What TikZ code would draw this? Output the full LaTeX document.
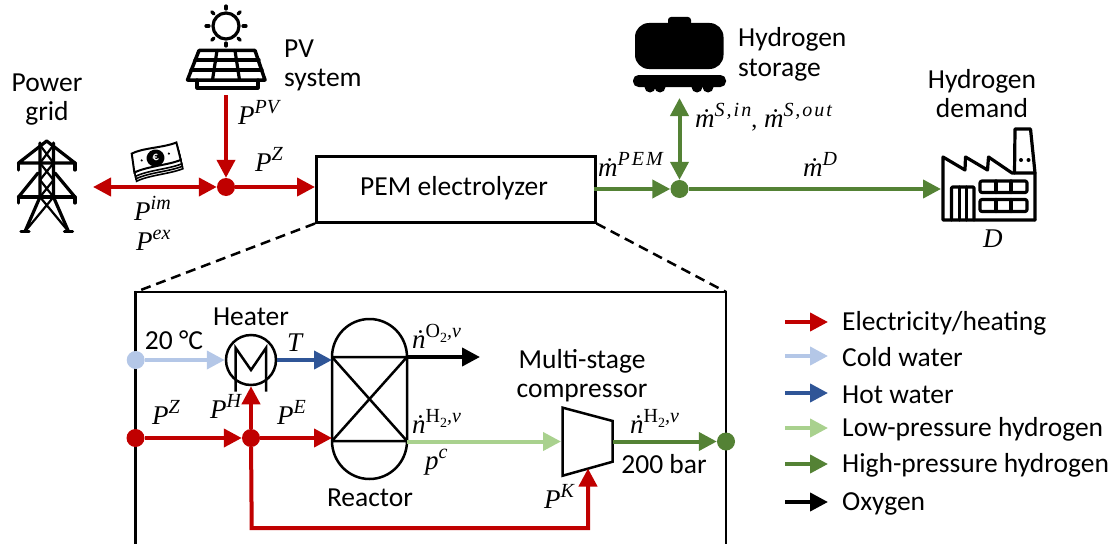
\documentclass[tikz,border=0pt]{standalone}
\usepackage{fontspec}
\setmainfont{Carlito}
\newfontfamily\varfont[ItalicFont=Liberation Serif Italic]{Liberation Serif}
\usetikzlibrary{arrows.meta,calc}
\definecolor{cred}{HTML}{C00000}
\definecolor{clblue}{HTML}{B4C7E7}
\definecolor{cblue}{HTML}{2F5597}
\definecolor{clgreen}{HTML}{A9D18E}
\definecolor{cgreen}{HTML}{548235}
\newcommand\supfs{\fontsize{20}{20}\selectfont}
\newcommand\Var[2]{{\varfont\itshape #1\raisebox{.40em}{\supfs #2}}}
\newcommand\mdot{{\varfont\itshape\.m}}
\newcommand\ndot{{\varfont\itshape\.n}}
\newcommand\MD[1]{\mdot\raisebox{.40em}{\supfs\varfont\itshape\addfontfeatures{LetterSpace=10} #1}}
\newcommand\ND[1]{\ndot\raisebox{.40em}{\supfs\varfont{\upshape #1}\raisebox{-.25em}{\fontsize{14}{14}\selectfont\upshape 2}\itshape ,v}}
\tikzset{
  x=1pt,y=-1pt,
  txt/.style={font=\fontsize{27.5}{29}\selectfont,inner sep=0pt,align=center},
  txtl/.style={txt,anchor=base west,align=left},
  mlbl/.style={anchor=base west,inner sep=0pt,font=\fontsize{27}{30}\selectfont\varfont\itshape},
  flow/.style={line width=4pt,-{Triangle[length=18pt,width=18pt]}},
  flowb/.style={line width=4pt,{Triangle[length=18pt,width=18pt]}-{Triangle[length=18pt,width=18pt]}},
  dot/.style={circle,fill=#1,draw=none,minimum size=18pt,inner sep=0pt},
  icon/.style={line width=3.2pt,line join=round,line cap=round},
  unit/.style={draw=black,line width=2.5pt,fill=white},
}
\begin{document}
\begin{tikzpicture}
\useasboundingbox (0,0) rectangle (1115,543);
% detail frame
\coordinate (fa) at (135.5,545);
\coordinate (fb) at (135.5,292);
\coordinate (fc) at (726,292);
\coordinate (fd) at (726,545);
\draw[line width=2.5pt,line join=miter] (fa) -- (fb) -- (fc) -- (fd);
% PEM
\node[unit,minimum width=279pt,minimum height=66pt,inner sep=0pt,anchor=north west] (pem) at (315,155) {};
\node[txt] (pemt) at (454,188.5) {PEM electrolyzer};
\draw[line width=2.5pt,dash pattern=on 10pt off 6pt] (pem.south west) -- (fb);
\draw[line width=2.5pt,dash pattern=on 10pt off 6pt] (pem.south east) -- (fc);
% Power grid icon
\begin{scope}[shift={(0,0)},icon]
\coordinate (tw) at (47,187);
\draw (46.7,141) -- (18.5,163) -- (75,163) -- cycle;
\draw (18.5,163) -- (18.5,170) (75,163) -- (75,170);
\draw (18.5,197) -- (75,197) (18.5,197) -- (18.5,203) (75,197) -- (75,203);
\draw (38,173) -- (18.5,197) (55,173) -- (75,197);
\draw (40,143) -- (40,197) -- (25,231.5) (53.5,143) -- (53.5,197) -- (68.5,231.5);
\draw (21,231.5) -- (29,231.5) (64.5,231.5) -- (72.5,231.5);
\draw[line width=2.2pt] (40,145) -- (53.5,163) (53.5,145) -- (40,163)
  (40,163) -- (53.5,180) (53.5,163) -- (40,180)
  (40,180) -- (53.5,197) (53.5,180) -- (40,197)
  (40,197) -- (68.5,231.5) (53.5,197) -- (25,231.5);
\end{scope}
\node[txt] (grid) at (47,100) {Power\\grid};
% PV icon
\begin{scope}[icon]
\draw (226,26) circle (13);
\foreach \a in {0,45,...,315}{\draw ($(226,26)+(\a:17)$) -- ($(226,26)+(\a:20)$);}
\draw[line width=3.5pt] (199,50.5) -- (255,50.5) -- (265,80) -- (187.5,80) -- cycle;
\draw (195,60) -- (259,60) (191,70) -- (262,70);
\draw (217,50.5) -- (212.5,80) (235,50.5) -- (239.5,80);
\draw (197,80) -- (197,88) -- (258,88) -- (258,80);
\end{scope}
\coordinate (pvout) at (226,95);
\node[txtl] (pv) at (284,57) {PV};
\node[txtl] (sys) at (284,86) {system};
% money icon
\begin{scope}[shift={(155.5,158)},rotate=14]
\foreach \d in {8,5.5,3}{\draw[line width=1.6pt,fill=white] (-22,-9+\d) .. controls (-10,-12+\d) and (10,-7+\d) .. (24,-9+\d) -- (24,9+\d) .. controls (10,11+\d) and (-10,7+\d) .. (-24,10+\d) -- cycle;}
\draw[line width=2pt,fill=white] (-22,-10) .. controls (-10,-13) and (10,-8) .. (24,-10) -- (24,8) .. controls (10,10) and (-10,6) .. (-24,9) -- cycle;
\fill (0,0) ellipse (9 and 8.5);
\fill (-14,-1) circle (1.2) (14,-1) circle (1.2);
\end{scope}
\node[inner sep=0pt,text=white,font=\fontsize{12}{12}\selectfont\bfseries,rotate=14] (euro) at (155.5,158) {€};
% junctions
\node[dot=cred] (j1) at (226,187) {};
\node[dot=cgreen] (j2) at (679.5,189) {};
\coordinate (gridc) at (93,187);
\draw[flow,cred] (pvout) -- (j1);
\draw[flowb,cred] (gridc) -- (j1);
\draw[flow,cred] (j1) -- (pem.west |- j1);
\coordinate (pemo) at (594,189);
\draw[flow,cgreen] (pemo) -- (j2);
\coordinate (sto) at (679.5,98);
\draw[flowb,cgreen] (sto) -- (j2);
\coordinate (dem) at (941,189);
\draw[flow,cgreen] (j2) -- (dem);
% storage icon
\fill[rounded corners=3pt] (668,17) rectangle (691,26);
\fill[rounded corners=14pt] (635,23) rectangle (723.5,69);
\fill[rounded corners=5.5pt] (633,75) rectangle (726,87);
\foreach \x in {650,660,697,708}{\fill (\x,87) circle (5.5);}
\node[txtl] (st1) at (738,47) {Hydrogen};
\node[txtl] (st2) at (738,76) {storage};
% factory icon
\begin{scope}[icon]
\draw (1035,220) -- (943,220) -- (943,157) -- (965,170) -- (965.5,157) -- (987.5,170) -- (988.5,157) -- (1012,173) -- (1035,173);
\draw (1035,220) -- (1035,173) -- (1030.5,129) -- (1015,129) -- (1014.5,173);
\fill (1021,160) circle (2) (1028.5,160) circle (2);
\draw[rounded corners=1pt] (951.5,220) -- (951.5,187) -- (974,187) -- (974,220);
\draw (959.5,187) -- (959.5,220) (966.5,187) -- (966.5,220);
\draw[rounded corners=2pt] (980,181) rectangle (1027,192.5);
\draw[rounded corners=2pt] (980,199.5) rectangle (1027,211.5);
\draw (996,181) -- (996,192.5) (1011,181) -- (1011,192.5) (996,199.5) -- (996,211.5) (1011,199.5) -- (1011,211.5);
\end{scope}
\node[txt] (dm) at (982,93.5) {Hydrogen\\demand};
% top labels
\node[mlbl] (lpv) at (238,124) {\Var{P}{PV}};
\node[mlbl] (lz) at (255,171) {\Var{P}{Z}};
\node[mlbl] (lim) at (134,220) {\Var{P}{im}};
\node[mlbl] (lex) at (136,250) {\Var{P}{ex}};
\node[mlbl] (lm) at (598,176) {\MD{PEM}};
\node[mlbl] (ls) at (695,127) {\MD{S,in}{\fontsize{24}{24}\selectfont\upshape ,} \MD{S,out}};
\node[mlbl] (ld) at (803,176) {\MD{D}};
\node[mlbl] (lD) at (983,247) {D};
% Detail: heater
\node[circle,draw,line width=2.5pt,minimum size=50pt,inner sep=0pt] (ht) at (251,360) {};
\draw[line width=2.5pt,line join=miter] (235.7,391.7) -- (235.7,348) -- (251,370) -- (266,348) -- (266,391.7);
\node[txt] (hl) at (251,317) {Heater};
% reactor
\coordinate (ra) at (332,357);
\coordinate (rb) at (407,357);
\coordinate (rc) at (407,441);
\coordinate (rd) at (332,441);
\draw[line width=2.5pt,line join=round] (rd) -- (ra) arc[start angle=180,end angle=360,x radius=37.5pt,y radius=-38pt] -- (rc) arc[start angle=0,end angle=180,x radius=37.5pt,y radius=-38pt] -- cycle;
\draw[line width=2.5pt] (ra) -- (rb) (rd) -- (rc) (ra) -- (rc) (rb) -- (rd);
\node[txt] (rl) at (370,497.5) {Reactor};
% compressor
\coordinate (ca) at (562.7,407.7);
\coordinate (cb) at (612.7,421);
\coordinate (cc) at (612.7,461.7);
\coordinate (cd) at (562.7,475.7);
\draw[line width=2.5pt,line join=miter] (ca) -- (cb) -- (cc) -- (cd) -- cycle;
\node[txt] (cl) at (582,376) {Multi-stage\\compressor};
% detail flows
\node[dot=clblue] (cw) at (135.7,360) {};
\node[dot=cred] (e0) at (135.5,438) {};
\node[dot=cred] (e1) at (251,438) {};
\node[dot=cgreen] (h2) at (726,441.5) {};
\draw[flow,clblue] (cw) -- (ht.west);
\draw[flow,cblue] (ht.east) -- (ra |- ht.east);
\draw[flow,cred] (e0) -- (e1);
\draw[flow,cred] (e1) -- (ht.south);
\draw[flow,cred] (e1) -- (rd |- e1);
\coordinate (kin) at (588,468.5);
\coordinate (bl) at (251.7,528);
\draw[flow,cred,line join=miter] (e1) -- (bl) -- (kin |- bl) -- (kin);
\coordinate (oo) at (480,357);
\draw[flow,black] (rb) -- (oo);
\coordinate (ci) at (561,441.5);
\draw[flow,clgreen] (rc |- ci) -- (ci);
\coordinate (co) at (612.7,441.5);
\draw[flow,cgreen] (co) -- (h2);
% detail labels
\node[txt] (t20) at (174,340.5) {20 °C};
\node[txt] (bar) at (664,464) {200 bar};
\node[mlbl] (lt) at (287,351) {T};
\node[mlbl] (lh) at (210,418) {\Var{P}{H}};
\node[mlbl] (lz2) at (152,424) {\Var{P}{Z}};
\node[mlbl] (le) at (277,424) {\Var{P}{E}};
\node[mlbl] (lk) at (544,508) {\Var{P}{K}};
\node[mlbl] (lc) at (425,469) {\Var{p}{c}};
\node[mlbl] (lo) at (412,348) {\ndot\raisebox{.40em}{\supfs\varfont{\upshape O}\raisebox{-.25em}{\fontsize{14}{14}\selectfont\upshape 2}\itshape ,v}};
\node[mlbl] (ln1) at (412,433) {\ND{H}};
\node[mlbl] (ln2) at (630,433) {\ND{H}};
% legend
\foreach \n/\y/\c/\t in {a/322/cred/Electricity\slash heating,b/356/clblue/Cold water,c/393/cblue/Hot water,d/428/clgreen/Low-pressure hydrogen,e/464/cgreen/High-pressure hydrogen,f/502/black/Oxygen}{
  \coordinate (k\n) at (785,\y);
  \coordinate (m\n) at (828,\y);
  \draw[flow,\c] (k\n) -- (m\n);
  \node[txt,anchor=west] (t\n) at (842,\y+1.5) {\t};
}
\end{tikzpicture}
\end{document}
